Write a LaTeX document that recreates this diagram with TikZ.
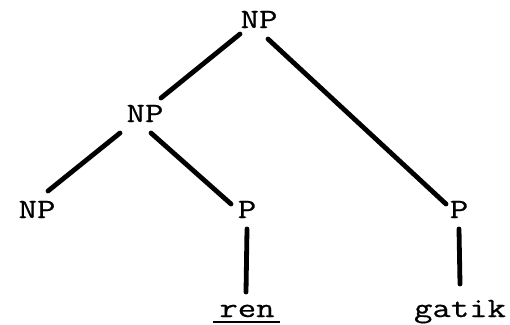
\documentclass[tikz,border=0pt]{standalone}
\usepackage{fontspec}
\newfontfamily\twfont[FakeBold=0.6]{Latin Modern Mono}
\newcommand{\tw}[1]{\scalebox{1.28}[1]{\twfont\fontsize{28}{28}\selectfont #1}}
\begin{document}
\begin{tikzpicture}[x=1bp,y=-1bp,
  lbl/.style={inner sep=0pt, anchor=base},
  edge/.style={line width=4.8bp, line cap=round}]
\useasboundingbox (0,0) rectangle (510,324);
\node[lbl] (np0) at (259,28) {\tw{NP}};
\node[lbl] (np1) at (145,122) {\tw{NP}};
\node[lbl] (np2) at (37,218) {\tw{NP}};
\node[lbl] (p1) at (247,218) {\tw{P}};
\node[lbl] (p2) at (459,218) {\tw{P}};
\node[lbl] (ren) at (247,317) {\tw{ren}};
\node[lbl] (gatik) at (460,317) {\tw{gatik}};
\coordinate (a1) at (240,34); \coordinate (a2) at (161,98);
\coordinate (b1) at (268,39); \coordinate (b2) at (446,204);
\coordinate (c1) at (120,133); \coordinate (c2) at (48,191);
\coordinate (d1) at (151,133); \coordinate (d2) at (231,204);
\coordinate (e1) at (247,229); \coordinate (e2) at (246,292);
\coordinate (f1) at (459,229); \coordinate (f2) at (460,284);
\draw[edge] (a1) -- (a2);
\draw[edge] (b1) -- (b2);
\draw[edge] (c1) -- (c2);
\draw[edge] (d1) -- (d2);
\draw[edge] (e1) -- (e2);
\draw[edge] (f1) -- (f2);
\draw[line width=2bp] ([xshift=-6bp,yshift=-5bp]ren.base west) -- ([xshift=5bp,yshift=-5bp]ren.base east);
\end{tikzpicture}
\end{document}
